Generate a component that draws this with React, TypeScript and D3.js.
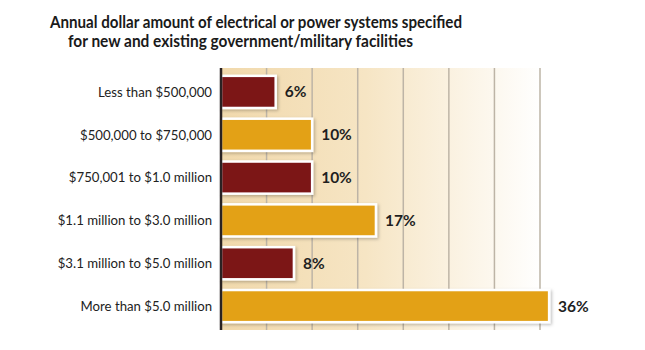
import React, { useEffect, useRef } from "react";
import * as d3 from "d3";

const categories = [
  "Less than $500,000",
  "$500,000 to $750,000",
  "$750,001 to $1.0 million",
  "$1.1 million to $3.0 million",
  "$3.1 million to $5.0 million",
  "More than $5.0 million",
];
const values = [6, 10, 10, 17, 8, 36];
const barColors = ["#7b1418", "#e3a117"];
const gridTicks = [5, 10, 15, 20, 25, 30, 35];
const titleLines = [
  "Annual dollar amount of electrical or power systems specified",
  "for new and existing government/military facilities",
];

const App: React.FC = () => {
  const svgRef = useRef<SVGSVGElement | null>(null);

  useEffect(() => {
    const width = 645;
    const height = 350;
    const plotLeft = 221;
    const plotTop = 68;
    const plotBottom = 330;

    const svg = d3.select(svgRef.current);
    svg.selectAll("*").remove();
    svg.attr("width", width).attr("height", height);

    const x = d3.scaleLinear().domain([0, 35]).range([plotLeft, 540]);
    const y = d3
      .scaleBand()
      .domain(categories)
      .range([70.5, 327.5])
      .paddingInner(0.25)
      .paddingOuter(0.125);

    const defs = svg.append("defs");
    const grad = defs
      .append("linearGradient")
      .attr("id", "bg")
      .attr("x1", "0")
      .attr("x2", "1")
      .attr("y1", "0")
      .attr("y2", "0");
    grad.append("stop").attr("offset", "0").attr("stop-color", "#f1d9ac");
    grad.append("stop").attr("offset", "0.45").attr("stop-color", "#f6e5c4");
    grad.append("stop").attr("offset", "1").attr("stop-color", "#ffffff");

    defs
      .append("filter")
      .attr("id", "shadow")
      .attr("x", "-10%")
      .attr("y", "-30%")
      .attr("width", "120%")
      .attr("height", "160%")
      .append("feDropShadow")
      .attr("dx", 1.5)
      .attr("dy", 1.5)
      .attr("stdDeviation", 1.5)
      .attr("flood-color", "#000")
      .attr("flood-opacity", 0.25);

    // background
    svg
      .append("rect")
      .attr("x", plotLeft)
      .attr("y", plotTop)
      .attr("width", x(35) - plotLeft + 2)
      .attr("height", plotBottom - plotTop)
      .attr("fill", "url(#bg)");

    // grid
    svg
      .append("g")
      .selectAll("line")
      .data(gridTicks)
      .enter()
      .append("line")
      .attr("x1", (d) => x(d))
      .attr("x2", (d) => x(d))
      .attr("y1", plotTop)
      .attr("y2", plotBottom)
      .attr("stroke", "#bdb4a6")
      .attr("stroke-width", 1.5);

    // title
    const titleWidths = [412, 345];
    svg
      .append("g")
      .selectAll("text")
      .data(titleLines)
      .enter()
      .append("text")
      .attr("x", (_, i) => (i === 0 ? 50 : 68))
      .attr("y", (_, i) => 28 + i * 19)
      .attr("font-family", "Lato, 'Noto Sans', sans-serif")
      .attr("font-weight", "bold")
      .attr("font-size", 17.5)
      .attr("fill", "#1a1a1a")
      .attr("textLength", (_, i) => titleWidths[i])
      .attr("lengthAdjust", "spacingAndGlyphs")
      .text((d) => d);

    // bars
    const bars = svg
      .append("g")
      .selectAll("g")
      .data(values)
      .enter()
      .append("g");

    bars
      .append("rect")
      .attr("x", plotLeft)
      .attr("y", (_, i) => y(categories[i]) as number)
      .attr("width", (d) => x(d) - plotLeft)
      .attr("height", y.bandwidth())
      .attr("fill", (_, i) => barColors[i % 2])
      .attr("stroke", "#ffffff")
      .attr("stroke-width", 2.5)
      .attr("filter", "url(#shadow)");

    bars
      .append("text")
      .attr("x", (d) => x(d) + 9)
      .attr("y", (_, i) => (y(categories[i]) as number) + y.bandwidth() / 2)
      .attr("dy", "0.36em")
      .attr("font-family", "Lato, 'Noto Sans', sans-serif")
      .attr("font-weight", "bold")
      .attr("font-size", 15.5)
      .attr("fill", "#1f1f1f")
      .text((d) => d + "%");

    // category labels
    svg
      .append("g")
      .selectAll("text")
      .data(categories)
      .enter()
      .append("text")
      .attr("x", 212)
      .attr("y", (d) => (y(d) as number) + y.bandwidth() / 2)
      .attr("dy", "0.36em")
      .attr("text-anchor", "end")
      .attr("font-family", "Lato, 'Noto Sans', sans-serif")
      .attr("font-size", 13.2)
      .attr("fill", "#222")
      .text((d) => d);

    // axis line
    svg
      .append("line")
      .attr("x1", plotLeft)
      .attr("x2", plotLeft)
      .attr("y1", plotTop)
      .attr("y2", plotBottom)
      .attr("stroke", "#2a2222")
      .attr("stroke-width", 2.5);
  }, []);

  return (
    <svg
      ref={svgRef}
      style={{ position: "absolute", left: 0, top: 0, display: "block" }}
    ></svg>
  );
};

export default App;
